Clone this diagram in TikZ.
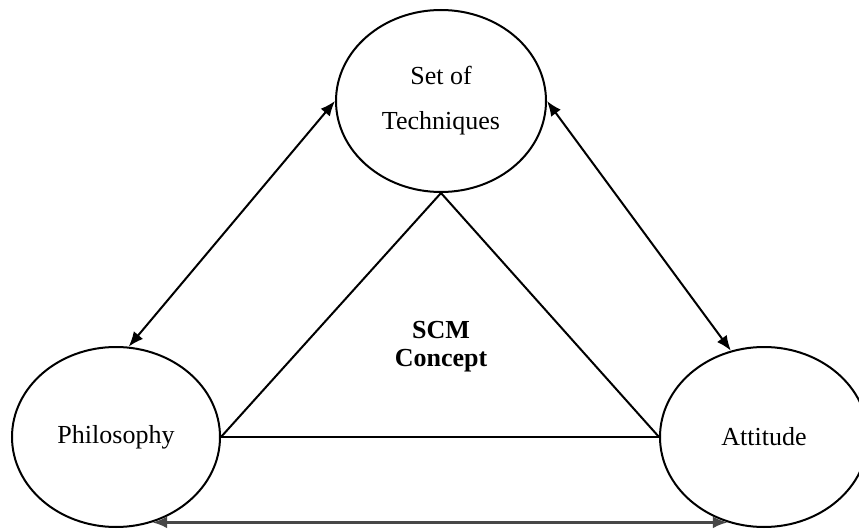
\documentclass[tikz,border=0pt]{standalone}
\usepackage{fontspec}
\setmainfont{Liberation Serif}
\usetikzlibrary{shapes.geometric,arrows.meta}
\tikzset{
  bubble/.style={draw, ellipse, line width=2pt, inner sep=0pt, align=center,
    font=\fontsize{26}{45}\selectfont},
  lnk/.style={line width=2pt},
  dbl/.style={line width=2pt, {Latex[length=15pt,width=12pt]}-{Latex[length=15pt,width=12pt]}},
  bottomdbl/.style={line width=2.8pt, black!72, {Latex[length=15pt,width=12pt]}-{Latex[length=15pt,width=12pt]}},
  centre/.style={align=center, font=\bfseries\fontsize{26}{28}\selectfont}
}
\begin{document}
\begin{tikzpicture}[x=1pt,y=-1pt]
  \fill[white] (0,0) rectangle (859,529);
  \clip (0,0) rectangle (859,529);
  \node[bubble, minimum width=210pt, minimum height=182pt] (tech) at (441,101) {Set of\\Techniques};
  \node[bubble, minimum width=208pt, minimum height=180pt] (phil) at (116,437) {Philosophy};
  \node[bubble, minimum width=208pt, minimum height=180pt] (att) at (764,437) {Attitude};
  \node[centre] (scm) at (441,347) {SCM\\Concept};
  \draw[lnk] (phil.east) -- (tech.south) -- (att.west);
  \draw[lnk] (phil.east) -- (att.west);
  \draw[dbl] (phil.82) -- (tech.180);
  \draw[dbl] (tech.0) -- (att.111);
  \draw[bottomdbl] (phil.293) -- (att.247);
\end{tikzpicture}
\end{document}
